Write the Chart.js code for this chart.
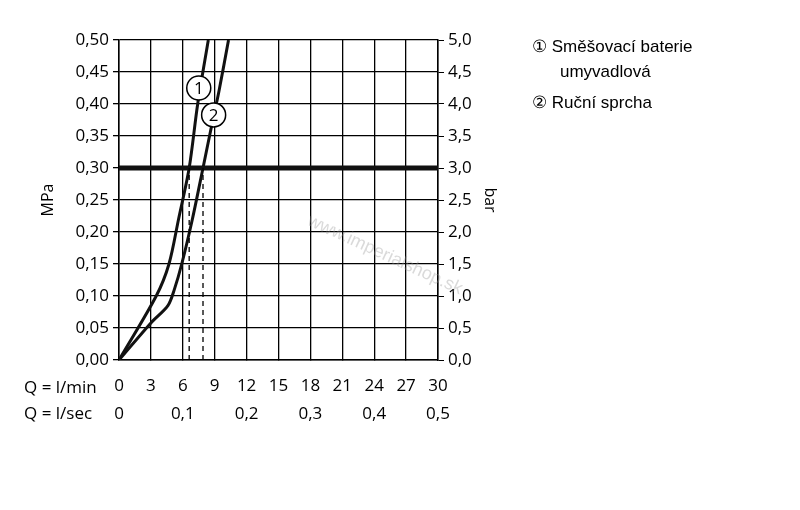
<!DOCTYPE html>
<html>
<head>
<meta charset="utf-8">
<script src="https://cdn.jsdelivr.net/npm/chart.js@4"></script>
<style>
  body { margin: 0; background: #fff; }
  #wrap { width: 800px; height: 510px; }
</style>
</head>
<body>
<div id="wrap"><canvas id="c" width="800" height="510"></canvas></div>
<script>
// data
const curve1X = [0, 3.5, 4.7, 5.6, 6.6, 7.4, 8.4];
const curve1Y = [0, 0.10, 0.15, 0.22, 0.30, 0.40, 0.50];
const curve2X = [0, 3.0, 4.6, 5.2, 5.9, 6.9, 7.9, 8.6, 9.4, 10.3];
const curve2Y = [0, 0.058, 0.085, 0.11, 0.15, 0.22, 0.30, 0.357, 0.42, 0.50];
const limitY = 0.30;
const dashX = [6.6, 7.9];
const secTicks = ["0", "0,1", "0,2", "0,3", "0,4", "0,5"];
const legendLines = ["① Směšovací baterie", "umyvadlová", "② Ruční sprcha"];
const markers = [{ n: "1", x: 7.5, y: 0.425 }, { n: "2", x: 8.9, y: 0.383 }];

const FONT = "'Open Sans', 'DejaVu Sans', sans-serif";
const comma = (v, d) => v.toFixed(d).replace(".", ",");
const toPts = (xs, ys) => xs.map((x, i) => ({ x: x, y: ys[i] }));

const extras = {
  id: "extras",
  afterDraw(chart) {
    const ctx = chart.ctx;
    const xs = chart.scales.x, ys = chart.scales.y;
    ctx.save();
    // dashed lines
    ctx.setLineDash([5, 4]);
    ctx.lineWidth = 1.3;
    ctx.strokeStyle = "#000";
    dashX.forEach(v => {
      const px = xs.getPixelForValue(v);
      ctx.beginPath();
      ctx.moveTo(px, ys.getPixelForValue(0));
      ctx.lineTo(px, ys.getPixelForValue(limitY));
      ctx.stroke();
    });
    ctx.setLineDash([]);
    // circled curve numbers
    markers.forEach(m => {
      const px = xs.getPixelForValue(m.x), py = ys.getPixelForValue(m.y);
      ctx.beginPath();
      ctx.arc(px, py, 12, 0, Math.PI * 2);
      ctx.fillStyle = "#fff";
      ctx.fill();
      ctx.lineWidth = 1.5;
      ctx.stroke();
      ctx.fillStyle = "#000";
      ctx.font = "17px " + FONT;
      ctx.textAlign = "center";
      ctx.textBaseline = "middle";
      ctx.fillText(m.n, px, py + 1);
    });
    // watermark
    ctx.save();
    ctx.translate(385, 255);
    ctx.rotate(0.43);
    ctx.fillStyle = "rgba(150,150,150,0.35)";
    ctx.font = "18px 'Liberation Sans', sans-serif";
    ctx.textAlign = "center";
    ctx.fillText("www.imperialshop.sk", 0, 0);
    ctx.restore();
    // axis titles
    ctx.fillStyle = "#000";
    ctx.font = "16px " + FONT;
    ctx.textAlign = "center";
    ctx.textBaseline = "middle";
    ctx.save();
    ctx.translate(48, 200);
    ctx.rotate(-Math.PI / 2);
    ctx.fillText("MPa", 0, 0);
    ctx.restore();
    ctx.save();
    ctx.translate(490, 200);
    ctx.rotate(Math.PI / 2);
    ctx.fillText("bar", 0, 0);
    ctx.restore();
    // bottom labels
    ctx.font = "17px " + FONT;
    ctx.textAlign = "left";
    ctx.fillText("Q = l/min", 24, 388);
    ctx.fillText("Q = l/sec", 24, 414);
    ctx.textAlign = "center";
    secTicks.forEach((t, i) => {
      ctx.fillText(t, xs.getPixelForValue(i * 6), 414);
    });
    // legend
    ctx.textAlign = "left";
    ctx.font = "17px 'Liberation Sans', Arial, sans-serif";
    ctx.fillText(legendLines[0], 532, 47);
    ctx.fillText(legendLines[1], 560, 72);
    ctx.fillText(legendLines[2], 532, 103);
    ctx.restore();
  }
};

new Chart(document.getElementById("c"), {
  type: "line",
  data: {
    datasets: [
      { data: toPts(curve1X, curve1Y), borderColor: "#111", borderWidth: 3, pointRadius: 0, tension: 0.3 },
      { data: toPts(curve2X, curve2Y), borderColor: "#111", borderWidth: 3, pointRadius: 0, tension: 0.3 },
      { data: [{ x: 0, y: limitY }, { x: 30, y: limitY }], borderColor: "#111", borderWidth: 5, pointRadius: 0 }
    ]
  },
  options: {
    responsive: false,
    animation: false,
    layout: { padding: { top: 40, left: 0, right: 277, bottom: 110 } },
    plugins: { legend: { display: false }, tooltip: { enabled: false } },
    scales: {
      x: {
        type: "linear", min: 0, max: 30,
        ticks: { stepSize: 3, color: "#000", font: { size: 17, family: FONT }, maxRotation: 0, padding: 16 },
        grid: { color: "#000", lineWidth: 1.3, tickLength: 0 },
        border: { color: "#000", width: 1.5 },
        afterFit(s) { s.height = 40; }
      },
      y: {
        min: 0, max: 0.5,
        ticks: { stepSize: 0.05, color: "#000", font: { size: 17, family: FONT }, padding: 4, callback: v => comma(v, 2) },
        grid: { color: "#000", lineWidth: 1.3, tickLength: 6 },
        border: { color: "#000", width: 1.5 },
        afterFit(s) { s.width = 119; }
      },
      y2: {
        position: "right", min: 0, max: 5,
        ticks: { stepSize: 0.5, color: "#000", font: { size: 17, family: FONT }, padding: 4, callback: v => comma(v, 1) },
        grid: { drawOnChartArea: false, color: "#000", tickLength: 6 },
        border: { color: "#000", width: 1.5 },
        afterFit(s) { s.width = 85; }
      }
    }
  },
  plugins: [extras]
});
</script>
</body>
</html>
